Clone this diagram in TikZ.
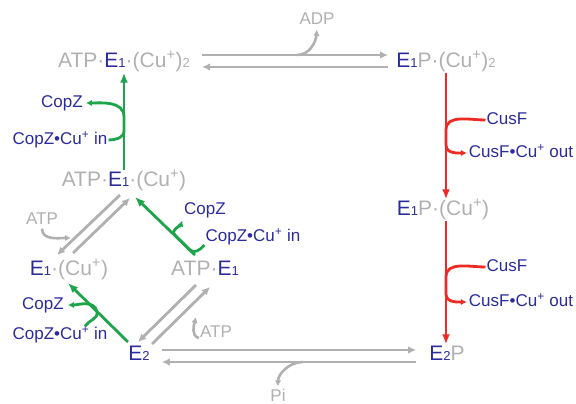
\documentclass[tikz,border=0pt]{standalone}
\usepackage{fontspec}
\setmainfont{Liberation Sans}
\usetikzlibrary{arrows.meta, calc}
\definecolor{ltgray}{HTML}{B0B0B0}
\definecolor{cublue}{HTML}{2B2B9C}
\definecolor{cpgreen}{HTML}{1EA54B}
\definecolor{cfred}{HTML}{EE2A24}

\newcommand{\lo}[1]{{\fontsize{13}{13}\selectfont #1}}
\newcommand{\enz}[1]{\textcolor{cublue}{E\lo{#1}}}

\begin{document}
\begin{tikzpicture}[
  x=1pt, y=1pt,
  >={Latex[length=10pt, width=8pt]},
  species/.style={font=\fontsize{21}{24}\selectfont, text=ltgray, text height=15pt, text depth=4pt, inner sep=1pt},
  partner/.style={font=\fontsize{17}{20}\selectfont, text=cublue, text height=12pt, text depth=3pt, inner sep=1pt},
  sidelbl/.style={font=\fontsize{17}{20}\selectfont, text=ltgray, text height=12pt, text depth=3pt, inner sep=1pt},
  rev/.style={ltgray, line width=2.8pt, -{Latex[length=8pt, width=7.5pt]}},
  sidearr/.style={ltgray, line width=2.6pt, -{Latex[length=6pt, width=6.5pt]}},
  copz/.style={cpgreen, line width=2.8pt, ->},
  copzside/.style={cpgreen, line width=2.8pt, -{Latex[length=6pt, width=6.5pt]}},
  cusf/.style={cfred, line width=2.8pt, ->},
  cusfside/.style={cfred, line width=2.8pt, -{Latex[length=6pt, width=6.5pt]}},
]

% Frame
\useasboundingbox (0,0) rectangle (576,404);

% Enzyme states
\node[species] (atpcu2) at (124,342) {ATP·\enz{1}·(Cu\textsuperscript{+})\lo{2}};
\node[species] (e1pcu2) at (446,342) {\enz{1}P·(Cu\textsuperscript{+})\lo{2}};
\node[species] (atpcu) at (124,223) {ATP·\enz{1}·(Cu\textsuperscript{+})};
\node[species] (e1cu) at (69,134) {\enz{1}·(Cu\textsuperscript{+})};
\node[species] (atpe1) at (205,134) {ATP·\enz{1}};
\node[species] (e2) at (139,49) {\enz{2}};
\node[species] (e1pcu) at (443,194) {\enz{1}P·(Cu\textsuperscript{+})};
\node[species] (e2p) at (447,49) {\enz{2}P};

% Partners and side products
\node[partner] (cz1) at (62,301) {CopZ};
\node[partner] (czin1) at (60,264) {CopZ•Cu\textsuperscript{+} in};
\node[partner] (cz2) at (205,194) {CopZ};
\node[partner] (czin2) at (253,167) {CopZ•Cu\textsuperscript{+} in};
\node[partner] (cz3) at (43,99) {CopZ};
\node[partner] (czin3) at (60,69) {CopZ•Cu\textsuperscript{+} in};
\node[partner] (cf1) at (507,284) {CusF};
\node[partner] (cfo1) at (521,251) {CusF•Cu\textsuperscript{+} out};
\node[partner] (cf2) at (507,137) {CusF};
\node[partner] (cfo2) at (521,102) {CusF•Cu\textsuperscript{+} out};
\node[sidelbl] (adp) at (317,384) {ADP};
\node[sidelbl] (pi) at (278,7) {Pi};
\node[sidelbl] (atpa) at (42,184) {ATP};
\node[sidelbl] (atpb) at (216,71) {ATP};

% Reversible steps (gray)
\draw[rev, shorten <=11pt, shorten >=7pt] ([yshift=7pt]atpcu2.east) -- ([yshift=7pt]e1pcu2.west);
\draw[rev, shorten <=7pt, shorten >=11pt] ([yshift=-5pt]e1pcu2.west) -- ([yshift=-5pt]atpcu2.east);
\draw[rev, shorten <=11pt, shorten >=12pt] ([yshift=5pt]e2.east) -- ([yshift=5pt]e2p.west);
\draw[rev, shorten <=12pt, shorten >=11pt] ([yshift=-7pt]e2p.west) -- ([yshift=-7pt]e2.east);
\draw[rev] ([shift={(-4,-14)}]atpcu.center) -- ([shift={(-12,15)}]e1cu.center);
\draw[rev] ([shift={(4,17)}]e1cu.center) -- ([shift={(6,-17)}]atpcu.center);
\draw[rev] ([shift={(-9,-15)}]atpe1.center) -- ([shift={(-1,13)}]e2.center);
\draw[rev] ([shift={(13,11)}]e2.center) -- ([shift={(5,-17)}]atpe1.center);

% ATP in, ADP and Pi out
\coordinate (jadp) at (297,349);
\coordinate (jpi) at (303,42);
\coordinate (atpatip) at (71,166);
\coordinate (atpbtip) at (196,87);
\draw[sidearr, shorten >=1pt] (jadp) to[out=0, in=-95] (adp.south);
\draw[sidearr, shorten >=2pt] (jpi) to[out=180, in=90] (pi.north);
\draw[sidearr] (atpa.south) to[out=-90, in=180] (atpatip);
\draw[sidearr] ([yshift=-5pt]atpb.west) to[out=165, in=-105] (atpbtip);

% Cu+ uptake from CopZ (green)
\draw[copz] (atpcu.north) -- (atpcu.north |- atpcu2.south);
\coordinate (jg1a) at (124,287);
\coordinate (jg1b) at (124,273);
\draw[copzside, shorten >=2pt] (czin1.east) to[out=0, in=-90] (jg1b) -- (jg1a) to[out=90, in=0] (cz1.east);

\draw[copz] ([shift={(-10,15)}]atpe1.center) -- ([shift={(11,-16)}]atpcu.center);
\coordinate (jg2a) at (190,154);
\coordinate (jg2b) at (175,169);
\draw[copzside, shorten >=2pt] ([yshift=-8pt]czin2.west) to[out=-130, in=-45] (jg2a) -- (jg2b) to[out=135, in=-110] (cz2.south west);

\draw[copz] ([shift={(-11,13)}]e2.center) -- ([shift={(-1,-13)}]e1cu.center);
\coordinate (jg3) at (97,92);
\draw[copzside, shorten >=3pt] ([xshift=25pt]czin3.north) to[out=60, in=-80] (jg3) to[out=100, in=0] (cz3.east);

% Cu+ release to CusF (red)
\draw[cusf] (e1pcu2.south) -- (e1pcu2.south |- e1pcu.north);
\draw[cusf] (e1pcu2.south |- e1pcu.south) -- (e1pcu2.south |- e2p.north);
\coordinate (jr1a) at ($(e1pcu2.south |- cf1.west)+(0,-10)$);
\coordinate (jr1b) at ($(e1pcu2.south |- cfo1.west)+(0,8)$);
\coordinate (jr2a) at ($(e1pcu2.south |- cf2.west)+(0,-10)$);
\coordinate (jr2b) at ($(e1pcu2.south |- cfo2.west)+(0,8)$);
\draw[cusfside, shorten >=1pt] (cf1.west) to[out=180, in=90] (jr1a) -- (jr1b) to[out=-90, in=180] (cfo1.west);
\draw[cusfside, shorten >=1pt] (cf2.west) to[out=180, in=90] (jr2a) -- (jr2b) to[out=-90, in=180] (cfo2.west);

\end{tikzpicture}
\end{document}
